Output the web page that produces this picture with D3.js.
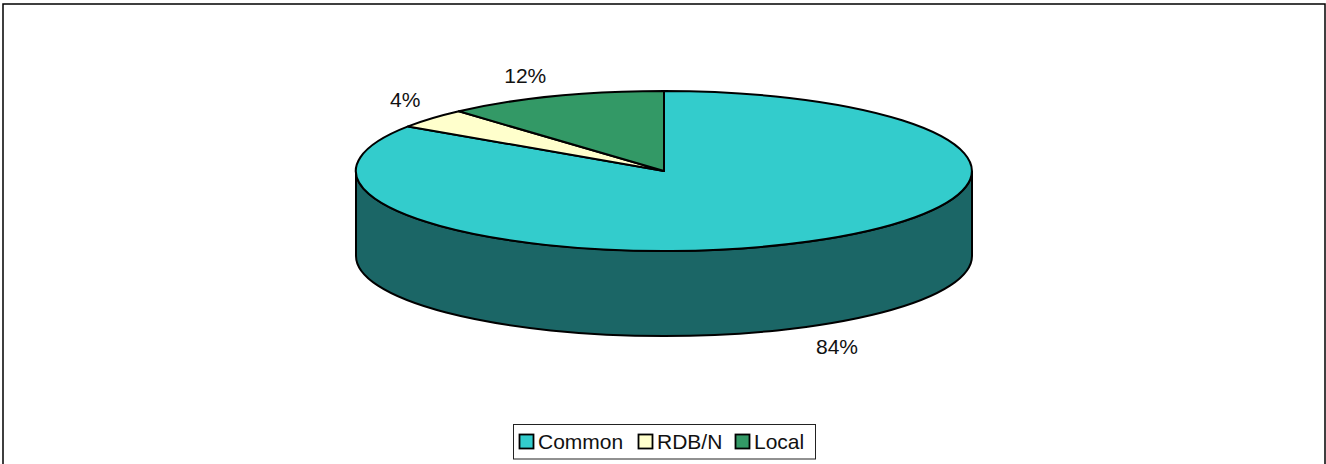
<!DOCTYPE html>
<html>
<head>
<meta charset="utf-8">
<script src="https://cdn.jsdelivr.net/npm/d3@7"></script>
<style>
html, body { margin: 0; padding: 0; background: #fff; }
svg { display: block; }
text { font-family: "Liberation Sans", Arial, sans-serif; font-size: 21px; fill: #111; }
</style>
</head>
<body>
<script>
var categories = ['Common', 'RDB/N', 'Local'];
var values = [84.4, 4, 11.6];
var colors = ['#33cccc', '#ffffcc', '#339966'];
var sideColor = '#1b6666';

var width = 1326, height = 464;
var cx = 664, cy = 171, rx = 308, ry = 80, depth = 85;
// small pixel nudges for the data labels
var labelNudge = [[-1, -1], [20, -3], [-7, 2]];
var legendX = [519, 638, 735];

var svg = d3.select('body').append('svg')
  .attr('width', width)
  .attr('height', height);

// outer frame, bottom edge runs off the picture
svg.append('rect')
  .attr('x', 3).attr('y', 4)
  .attr('width', 1322).attr('height', 480)
  .attr('fill', '#fff')
  .attr('stroke', '#000')
  .attr('stroke-width', 1.5);

// side wall of the pie
svg.append('path')
  .attr('d', 'M' + (cx - rx) + ',' + cy +
    'L' + (cx - rx) + ',' + (cy + depth) +
    'A' + rx + ',' + ry + ' 0 0 0 ' + (cx + rx) + ',' + (cy + depth) +
    'L' + (cx + rx) + ',' + cy +
    'A' + rx + ',' + ry + ' 0 0 1 ' + (cx - rx) + ',' + cy + 'Z')
  .attr('fill', sideColor)
  .attr('stroke', '#000')
  .attr('stroke-width', 2);

// top face: unit pie squashed into an ellipse
var pie = d3.pie().sort(null)(values);
var arc = d3.arc().innerRadius(0).outerRadius(1);

var face = svg.append('g')
  .attr('transform', 'translate(' + cx + ',' + cy + ') scale(' + rx + ',' + ry + ')');

face.selectAll('path')
  .data(pie)
  .enter().append('path')
  .attr('d', arc)
  .attr('fill', (d, i) => colors[i])
  .attr('stroke', '#000')
  .attr('stroke-width', 2)
  .attr('stroke-linejoin', 'round')
  .style('vector-effect', 'non-scaling-stroke');

// percent labels around the pie
var percent = d3.format('.0%');
var total = d3.sum(values);

svg.selectAll('text.label')
  .data(pie)
  .enter().append('text')
  .attr('class', 'label')
  .attr('text-anchor', 'middle')
  .attr('x', (d, i) => {
    var a = (d.startAngle + d.endAngle) / 2;
    return cx + Math.sin(a) * rx * 1.2 + labelNudge[i][0];
  })
  .attr('y', (d, i) => {
    var a = (d.startAngle + d.endAngle) / 2;
    var c = Math.cos(a);
    return cy - c * ry * 1.3 + (c < 0 ? depth : 0) + 7 + labelNudge[i][1];
  })
  .text(d => percent(d.value / total));

// legend
svg.append('rect')
  .attr('x', 513.5).attr('y', 424.5)
  .attr('width', 302).attr('height', 34.5)
  .attr('fill', '#fff')
  .attr('stroke', '#222')
  .attr('stroke-width', 1);

var legend = svg.selectAll('g.legend')
  .data(categories)
  .enter().append('g')
  .attr('class', 'legend')
  .attr('transform', (d, i) => 'translate(' + legendX[i] + ',0)');

legend.append('rect')
  .attr('x', 0.5).attr('y', 434.5)
  .attr('width', 14).attr('height', 14)
  .attr('fill', (d, i) => colors[i])
  .attr('stroke', '#000')
  .attr('stroke-width', 1.8);

legend.append('text')
  .attr('x', 19)
  .attr('y', 449)
  .text(d => d);
</script>
</body>
</html>
